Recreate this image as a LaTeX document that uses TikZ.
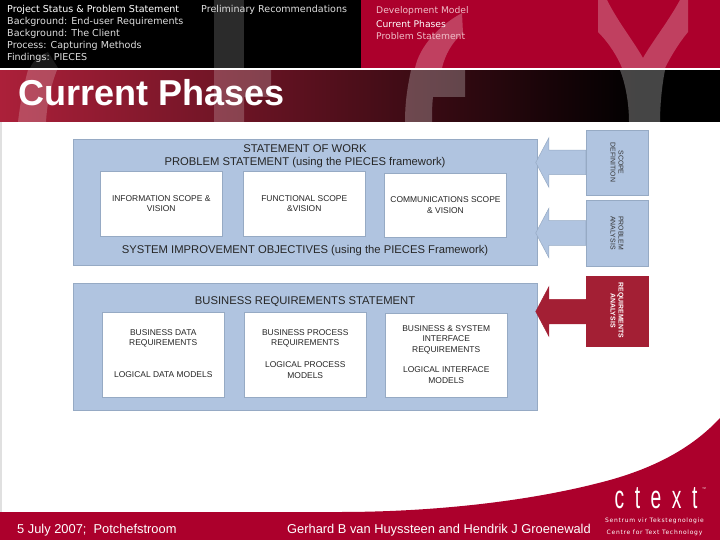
\documentclass[tikz,border=0pt]{standalone}
\usepackage{fontspec}
\usepackage{tikz}
\usetikzlibrary{shapes.arrows}
\setmainfont{Liberation Sans}
\newfontfamily\menufont{DejaVu Sans}
\definecolor{slidered}{RGB}{172,0,44}
\definecolor{bannerred}{RGB}{172,32,58}
\definecolor{panelblue}{RGB}{176,196,224}
\definecolor{panelline}{RGB}{150,170,196}
\definecolor{flagred}{RGB}{163,31,52}
\definecolor{menudim}{RGB}{222,222,222}
\definecolor{tabdim}{RGB}{240,190,200}

\begin{document}
\begin{tikzpicture}[x=1pt,y=-1pt,
  menu/.style={anchor=west,inner sep=0pt,font=\menufont\fontsize{9.55}{10}\selectfont,text=menudim},
  tab/.style={anchor=west,inner sep=0pt,font=\menufont\fontsize{9.2}{10}\selectfont,text=tabdim},
  frame/.style={draw=panelline,fill=panelblue,minimum width=#1,inner sep=0pt,line width=0.8pt},
  head/.style={inner sep=0pt,font=\fontsize{11.25}{13.4}\selectfont,align=center,text=black!85},
  inbox/.style={draw=panelline,fill=white,line width=0.8pt,inner sep=0pt,minimum width=121.5,
    font=\fontsize{8.45}{10.4}\selectfont,align=center,text=black!85},
  flag/.style={draw=panelline,fill=panelblue,line width=0.6pt,inner sep=0pt,minimum width=62},
  flagtext/.style={rotate=-90,inner sep=0pt,align=center,font=\fontsize{6.9}{7.8}\selectfont,text=black!80},
  pointer/.style={single arrow,fill=panelblue,draw=panelline,line width=0.5pt,inner xsep=0pt,inner ysep=12,
    minimum height=50,single arrow head extend=12.5,single arrow tip angle=124,
    shape border rotate=180},
  foot/.style={inner sep=0pt,text=white,font=\fontsize{12.85}{14}\selectfont}]
\useasboundingbox (0,0) rectangle (720,540);

% slide background
\fill[white] (0,0) rectangle (720,540);
\fill[black!12] (0,122) rectangle (2,512);
\fill[black] (0,0) rectangle (361,68);
\fill[slidered] (361,0) rectangle (720,68);
\shade[left color=bannerred,right color=black] (0,70) rectangle (640,122);
\fill[black] (640,70) rectangle (720,122);
\fill[white,opacity=0.1] (30,68) .. controls (34,60) and (38,56) .. (48,52) -- (58,68) -- cycle;
\fill[white,opacity=0.2] (28,70) .. controls (23,88) and (20,105) .. (18,122) -- (46,122) .. controls (47,105) and (50,88) .. (57,70) -- cycle;
\fill[white,opacity=0.17] (214,0) rectangle (244,68);
\fill[white,opacity=0.2] (214,70) -- (271,70) -- (271,97) -- (244,97) -- (244,122) -- (214,122) -- cycle;
\fill[white,opacity=0.25] (415,68) .. controls (420,45) and (440,25) .. (462,13) -- (463,33) .. controls (452,42) and (445,55) .. (442,68) -- cycle;
\fill[white,opacity=0.25] (405,122) .. controls (405,100) and (408,85) .. (411,70) -- (465,70) -- (465,97) -- (433,97) .. controls (432,105) and (432,115) .. (432,122) -- cycle;
\fill[white,opacity=0.25] (598,0) -- (598,32) .. controls (610,44) and (618,58) .. (622,68) -- (665,68) .. controls (670,58) and (678,44) .. (688,32) -- (688,0) -- (680,0) .. controls (668,22) and (652,42) .. (643,58) .. controls (634,42) and (618,22) .. (607,0) -- cycle;
\fill[white,opacity=0.27] (620,70) .. controls (626,85) and (629,105) .. (629,122) -- (660,122) .. controls (660,105) and (662,85) .. (665,70) -- cycle;
\fill[white] (0,68) rectangle (720,70);
\fill[slidered] (0,512) -- (340,512) .. controls (430,512) and (530,502) .. (610,480) .. controls (660,466) and (695,445) .. (720,418) -- (720,540) -- (0,540) -- cycle;

% header texts
\node[menu,text=white] (status) at (7,9.5) {Project Status \& Problem Statement};
\node[menu] (enduser) at (7,21.5) {Background: End-user Requirements};
\node[menu] (client) at (7,33.5) {Background: The Client};
\node[menu] (capture) at (7,45.5) {Process: Capturing Methods};
\node[menu] (pieces) at (7,57.5) {Findings: PIECES};
\node[menu] (prelim) at (201,9.5) {Preliminary Recommendations};
\node[tab] (devmodel) at (376,10.5) {Development Model};
\node[tab,text=white] (curphase) at (376,24.5) {Current Phases};
\node[tab] (probstate) at (376,36.5) {Problem Statement};
\node[anchor=west,inner sep=0pt,text=white,font=\fontsize{36}{40}\bfseries\selectfont] (title) at (18,93) {Current Phases};

% upper block
\node[frame=464,minimum height=126] (work) at (305,202) {};
\node[head] (worktext) at (305,156) {STATEMENT OF WORK\\PROBLEM STATEMENT (using the PIECES framework)};
\node[inbox,minimum height=64.5] (info) at (161.25,203.75) {INFORMATION SCOPE \&\\VISION};
\node[inbox,minimum height=64.5] (func) at (304.25,203.75) {FUNCTIONAL SCOPE\\\&VISION};
\node[inbox,minimum height=64] (comm) at (445.5,205) {COMMUNICATIONS SCOPE\\\& VISION};
\node[head] (improve) at (305,250.5) {SYSTEM IMPROVEMENT OBJECTIVES (using the PIECES Framework)};

% lower block
\node[frame=464,minimum height=127] (business) at (305,346.5) {};
\node[head] (bustext) at (305,302) {BUSINESS REQUIREMENTS STATEMENT};
\node[inbox,minimum height=84.5] (data) at (163.25,354.75) {};
\node[inbox,minimum height=84.5] (process) at (305.25,354.75) {};
\node[inbox,minimum height=84] (iface) at (446.25,355) {};
\node[inbox,draw=none,fill=none] (datareq) at (163.25,338.5) {BUSINESS DATA\\REQUIREMENTS};
\node[inbox,draw=none,fill=none] (datalog) at (163.25,375) {LOGICAL DATA MODELS};
\node[inbox,draw=none,fill=none] (procreq) at (305.25,338.5) {BUSINESS PROCESS\\REQUIREMENTS};
\node[inbox,draw=none,fill=none] (proclog) at (305.25,370) {LOGICAL PROCESS\\MODELS};
\node[inbox,draw=none,fill=none] (ifacereq) at (446.25,339.5) {BUSINESS \& SYSTEM\\INTERFACE\\REQUIREMENTS};
\node[inbox,draw=none,fill=none] (ifacelog) at (446.25,375) {LOGICAL INTERFACE\\MODELS};

% side flags and arrows
\node[flag,minimum height=65] (scope) at (617,162.5) {};
\node[flag,minimum height=66] (problem) at (617,233) {};
\node[flag,fill=flagred,draw=flagred,minimum height=70] (reqs) at (617,311) {};
\node[flagtext] (scopetext) at (617,162.5) {SCOPE\\DEFINITION};
\node[flagtext] (probtext) at (617,233) {PROBLEM\\ANALYSIS};
\node[flagtext,font=\fontsize{6.9}{7.8}\bfseries\selectfont,text=white] (reqtext) at (617,310.5) {REQUIREMENTS\\ANALYSIS};
\node[pointer] (scopearrow) at (564,162.5) {};
\node[pointer] (probarrow) at (564,233) {};
\node[pointer,fill=flagred,draw=flagred] (reqarrow) at (564,311.5) {};

% footer
\node[foot,anchor=west] (date) at (17,530.5) {5 July 2007;\ \ Potchefstroom};
\node[foot,anchor=west] (authors) at (287,530.5) {Gerhard B van Huyssteen and Hendrik J Groenewald};
\node[inner sep=0pt,text=white,font=\fontsize{24}{24}\selectfont] (logo) at (656,498) {\scalebox{0.8}[1.35]{\addfontfeatures{LetterSpace=55}ctext}};
\node[inner sep=0pt,text=white,font=\fontsize{4}{4}\selectfont] (logotm) at (704,489) {™};
\node[inner sep=0pt,text=white,font=\menufont\fontsize{6}{7}\selectfont] (sentrum) at (654.5,521) {\addfontfeatures{LetterSpace=12}Sentrum vir Tekstegnologie};
\node[inner sep=0pt,text=white,font=\menufont\fontsize{6}{7}\selectfont] (centre) at (654.5,533) {\addfontfeatures{LetterSpace=12}Centre for Text Technology};
\end{tikzpicture}
\end{document}
